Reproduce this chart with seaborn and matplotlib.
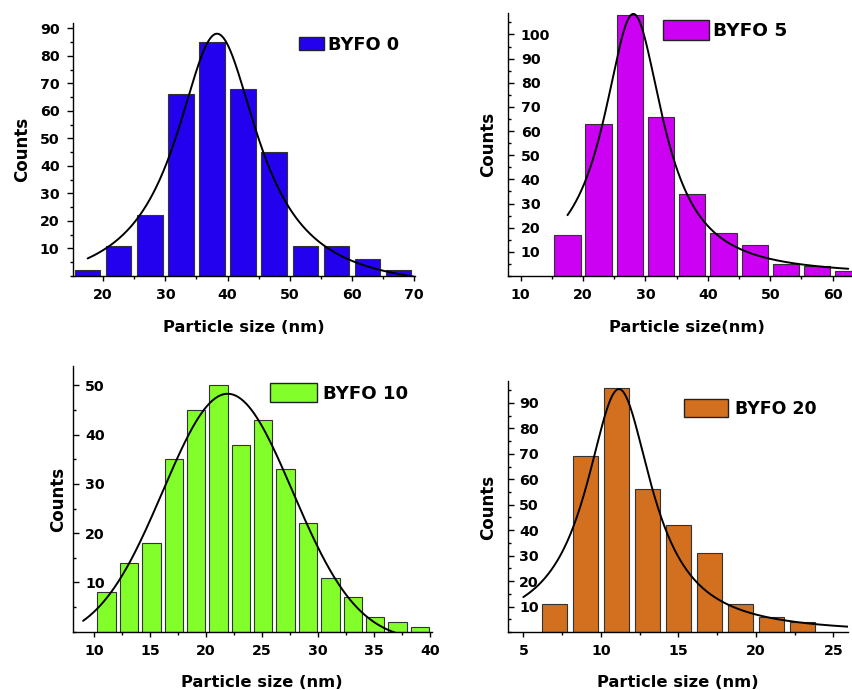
import numpy as np
import matplotlib
matplotlib.use("Agg")
import matplotlib.pyplot as plt
import seaborn as sns
from matplotlib.ticker import MultipleLocator
from matplotlib.patches import Patch

# ---------------- data ----------------
byfo0_size = [17.5, 22.5, 27.5, 32.5, 37.5, 42.5, 47.5, 52.5, 57.5, 62.5, 67.5]
byfo0_counts = [2, 11, 22, 66, 85, 68, 45, 11, 11, 6, 2]

byfo5_size = [17.5, 22.5, 27.5, 32.5, 37.5, 42.5, 47.5, 52.5, 57.5, 62.5]
byfo5_counts = [17, 63, 108, 66, 34, 18, 13, 5, 4, 2]

byfo10_size = [11.1, 13.1, 15.1, 17.1, 19.1, 21.1, 23.1, 25.1, 27.1, 29.1,
               31.1, 33.1, 35.1, 37.1, 39.1]
byfo10_counts = [8, 14, 18, 35, 45, 50, 38, 43, 33, 22, 11, 7, 3, 2, 1]

byfo20_size = [7, 9, 11, 13, 15, 17, 19, 21, 23]
byfo20_counts = [11, 69, 96, 56, 42, 31, 11, 6, 4]

labels = ["BYFO 0", "BYFO 5", "BYFO 10", "BYFO 20"]
xlabels = ["Particle size (nm)", "Particle size(nm)", "Particle size (nm)", "Particle size (nm)"]

# fitted peak parameters (type, centre, width, baseline, peak height, x-range)
fit0 = ("lorentz", 38.3, 8.1, -6.0, 88.0, 17.5, 70.0)
fit5 = ("lorentz", 28.05, 5.8, 0.0, 108.5, 17.5, 62.5)
fit10 = ("gauss", 21.92, 5.8, -2.0, 48.3, 9.0, 40.0)
fit20 = ("lorentz", 11.17, 2.6, -0.8, 95.4, 5.0, 26.0)


def fit_curve(fit):
    kind, xc, w, y0, peak, x0, x1 = fit
    x = np.linspace(x0, x1, 400)
    amp = peak - y0
    if kind == "lorentz":
        y = y0 + amp / (1 + ((x - xc) / w) ** 2)
    else:
        y = y0 + amp * np.exp(-((x - xc) ** 2) / (2 * w ** 2))
    return x, y


# ---------------- style ----------------
sns.set_style("ticks")
plt.rcParams["font.family"] = ["DejaVu Sans"]
plt.rcParams["font.weight"] = "bold"
plt.rcParams["axes.labelweight"] = "bold"
plt.rcParams["axes.linewidth"] = 1.0
for key in ["text.color", "axes.labelcolor", "xtick.color", "ytick.color",
            "axes.edgecolor", "xtick.labelcolor", "ytick.labelcolor"]:
    plt.rcParams[key] = "black"

W, H = 853, 690
fig = plt.figure(figsize=(W / 100, H / 100), dpi=100)

panels = [
    dict(size=byfo0_size, counts=byfo0_counts, color="#2300EE", label=labels[0], xlabel=xlabels[0],
         fit=fit0, box=(72.7, 22.7, 415.0, 276.0), xlim=(15.1, 70.13), ylim=(0, 92),
         xmaj=10, xmin=5, ymaj=10, ymin=5, yticks=range(10, 100, 10), yin=False, ypad=0,
         width=0.82, xlab=(243.7, 331.7), ylab=(26.7, 149.0),
         leg=(299.0, 44.5), legfs=12.8, hl=1.40, hh=0.70, htp=0.21),
    dict(size=byfo5_size, counts=byfo5_counts, color="#CC00F2", label=labels[1], xlabel=xlabels[1],
         fit=fit5, box=(507.7, 12.7, 865.7, 276.0), xlim=(7.92, 65.29), ylim=(0, 109),
         xmaj=10, xmin=5, ymaj=10, ymin=5, yticks=range(10, 110, 10), yin=True, ypad=9.4,
         width=0.845, xlab=(686.7, 331.7), ylab=(493.3, 144.0),
         leg=(663.0, 30.3), legfs=13.3, hl=2.49, hh=1.23, htp=0.23),
    dict(size=byfo10_size, counts=byfo10_counts, color="#82FF2B", label=labels[2], xlabel=xlabels[2],
         fit=fit10, box=(72.7, 365.7, 432.3, 631.7), xlim=(8.07, 40.21), ylim=(0, 54),
         xmaj=5, xmin=2.5, ymaj=10, ymin=5, yticks=range(10, 60, 10), yin=True, ypad=8.9,
         width=0.82, xlab=(262.3, 686.7), ylab=(62.7, 499.0),
         leg=(270.0, 392.8), legfs=13.1, hl=2.57, hh=1.23, htp=0.37),
    dict(size=byfo20_size, counts=byfo20_counts, color="#D3701F", label=labels[3], xlabel=xlabels[3],
         fit=fit20, box=(508.3, 380.7, 848.3, 632.0), xlim=(4.03, 25.97), ylim=(0, 98.7),
         xmaj=5, xmin=2.5, ymaj=10, ymin=5, yticks=range(10, 100, 10), yin=True, ypad=7.7,
         width=0.80, xlab=(678.3, 686.7), ylab=(492.7, 507.0),
         leg=(684.3, 408.3), legfs=12.5, hl=2.53, hh=1.27, htp=0.39),
]

for p in panels:
    l, t, r, b = p["box"]
    ax = fig.add_axes([l / W, 1 - b / H, (r - l) / W, (b - t) / H])

    sns.barplot(x=p["size"], y=p["counts"], native_scale=True, width=p["width"],
                color=p["color"], saturation=1, edgecolor="#333333", linewidth=0.8,
                errorbar=None, ax=ax)
    cx, cy = fit_curve(p["fit"])
    sns.lineplot(x=cx, y=cy, color="black", linewidth=1.4, sort=False,
                 errorbar=None, ax=ax)

    ax.set_xlim(*p["xlim"])
    ax.set_ylim(*p["ylim"])
    sns.despine(ax=ax)

    ax.xaxis.set_major_locator(MultipleLocator(p["xmaj"]))
    ax.xaxis.set_minor_locator(MultipleLocator(p["xmin"]))
    ax.set_yticks(list(p["yticks"]))
    ax.yaxis.set_minor_locator(MultipleLocator(p["ymin"]))

    ax.tick_params(axis="x", which="major", direction="out", length=3.4, width=1.0,
                   pad=5.5, labelsize=10.2, colors="black")
    ax.tick_params(axis="x", which="minor", direction="out", length=2.4, width=1.0)
    if p["yin"]:
        ax.tick_params(axis="y", which="major", direction="in", length=4.0, width=1.0,
                       pad=-p["ypad"], labelsize=10.2, colors="black")
        ax.tick_params(axis="y", which="minor", direction="in", length=2.4, width=1.0)
        plt.setp(ax.get_yticklabels(), ha="left")
    else:
        ax.tick_params(axis="y", which="major", direction="out", length=4.0, width=1.0,
                       pad=5.5, labelsize=10.2, colors="black")
        ax.tick_params(axis="y", which="minor", direction="out", length=2.4, width=1.0)

    ax.set_xlabel(p["xlabel"], fontsize=11.8, fontweight="bold", color="black")
    ax.set_ylabel("Counts", fontsize=12, fontweight="bold", color="black")
    xl_x = (p["xlab"][0] - l) / (r - l)
    xl_y = (b - p["xlab"][1]) / (b - t)
    ax.xaxis.set_label_coords(xl_x, xl_y)
    ax.xaxis.label.set_va("baseline")
    yl_x = (p["ylab"][0] - l) / (r - l)
    yl_y = (b - p["ylab"][1]) / (b - t)
    ax.yaxis.set_label_coords(yl_x, yl_y)
    ax.yaxis.label.set_va("baseline")

    old = ax.get_legend()
    if old is not None:
        old.remove()
    handle = Patch(facecolor=p["color"], edgecolor="#222222", linewidth=1.0, label=p["label"])
    leg = ax.legend(handles=[handle], loc="center left",
                    bbox_to_anchor=(p["leg"][0] / W, 1 - p["leg"][1] / H),
                    bbox_transform=fig.transFigure, frameon=False, borderpad=0,
                    borderaxespad=0, handlelength=p["hl"], handleheight=p["hh"],
                    handletextpad=p["htp"], prop=dict(size=p["legfs"], weight="bold"))
    for txt in leg.get_texts():
        txt.set_color("black")

fig.savefig("out.png", dpi=100)
